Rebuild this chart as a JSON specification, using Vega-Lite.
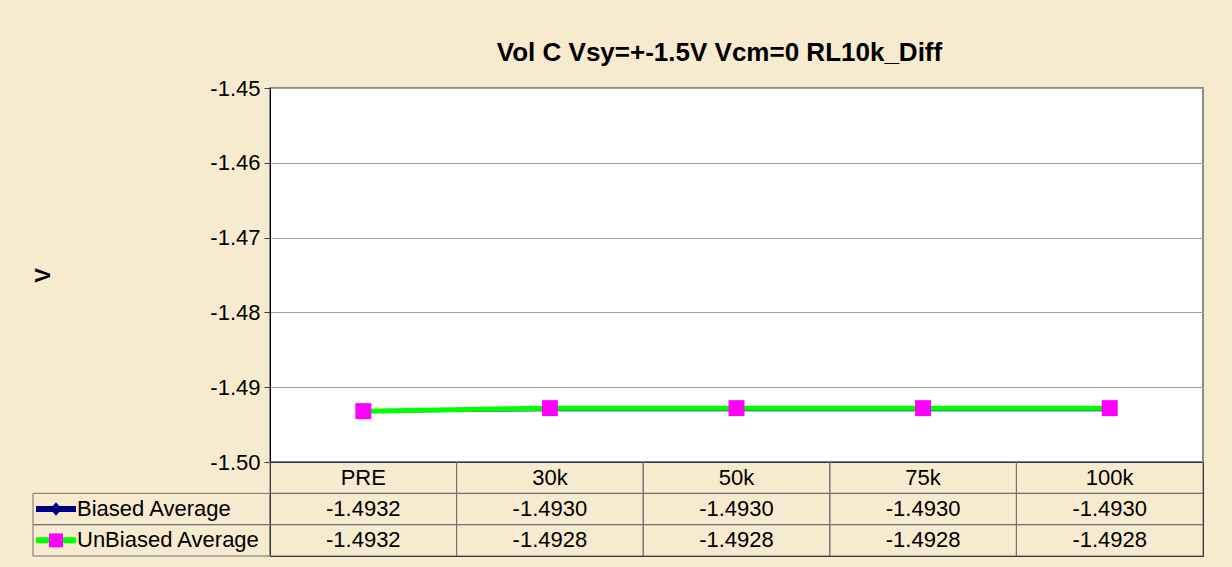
{
  "$schema": "https://vega.github.io/schema/vega-lite/v6.json",
  "background": "#F7EBCF",
  "padding": {"left": 30, "top": 39, "right": 32, "bottom": 11},
  "datasets": {
    "avg": [
      {"cat": "PRE", "series": "Biased Average", "value": -1.4932},
      {"cat": "30k", "series": "Biased Average", "value": -1.4930},
      {"cat": "50k", "series": "Biased Average", "value": -1.4930},
      {"cat": "75k", "series": "Biased Average", "value": -1.4930},
      {"cat": "100k", "series": "Biased Average", "value": -1.4930},
      {"cat": "PRE", "series": "UnBiased Average", "value": -1.4932},
      {"cat": "30k", "series": "UnBiased Average", "value": -1.4928},
      {"cat": "50k", "series": "UnBiased Average", "value": -1.4928},
      {"cat": "75k", "series": "UnBiased Average", "value": -1.4928},
      {"cat": "100k", "series": "UnBiased Average", "value": -1.4928}
    ]
  },
  "columns": 2,
  "spacing": 0,
  "bounds": "flush",
  "concat": [
    {
      "width": 237,
      "height": 374,
      "view": {"stroke": null},
      "data": {"values": []},
      "mark": "point",
      "encoding": {}
    },
    {
      "width": 933,
      "height": 374,
      "data": {"name": "avg"},
      "title": {
        "text": "Vol C Vsy=+-1.5V Vcm=0 RL10k_Diff",
        "font": "Liberation Sans",
        "fontSize": 26,
        "fontWeight": "bold",
        "color": "black",
        "baseline": "alphabetic",
        "offset": -10,
        "dx": -17,
        "anchor": "middle"
      },
      "view": {"stroke": "#8c8c8c", "strokeWidth": 2, "fill": "white"},
      "encoding": {
        "x": {
          "field": "cat",
          "type": "nominal",
          "sort": null,
          "scale": {"domain": ["PRE", "30k", "50k", "75k", "100k"], "paddingInner": 0, "paddingOuter": 0},
          "axis": null
        },
        "y": {
          "field": "value",
          "type": "quantitative",
          "scale": {"domain": [-1.5, -1.45], "nice": false, "zero": false},
          "axis": {
            "values": [-1.5, -1.49, -1.48, -1.47, -1.46, -1.45],
            "format": ".2f",
            "title": "V",
            "titleFont": "Liberation Sans",
            "titleFontSize": 22,
            "titleFontWeight": "bold",
            "titleColor": "black",
            "titlePadding": 155,
            "labelFont": "Liberation Sans",
            "labelFontSize": 22,
            "labelColor": "black",
            "labelPadding": 4,
            "tickSize": 6,
            "tickColor": "#404040",
            "domainColor": "black",
            "grid": true,
            "gridColor": "#a0a0a0"
          }
        }
      },
      "layer": [
        {
          "transform": [{"filter": "datum.series === 'Biased Average'"}],
          "mark": {"type": "line", "color": "#000080", "strokeWidth": 3}
        },
        {
          "transform": [{"filter": "datum.series === 'Biased Average'"}],
          "mark": {"type": "point", "shape": "diamond", "filled": true, "color": "#000080", "size": 100, "opacity": 1}
        },
        {
          "transform": [{"filter": "datum.series === 'UnBiased Average'"}],
          "mark": {"type": "line", "color": "#00FF00", "strokeWidth": 5}
        },
        {
          "transform": [{"filter": "datum.series === 'UnBiased Average'"}],
          "mark": {"type": "point", "shape": "square", "filled": true, "color": "#FF00FF", "size": 256, "opacity": 1}
        }
      ]
    },
    {
      "width": 237,
      "height": 94,
      "data": {"name": "avg"},
      "transform": [{"filter": "datum.cat === 'PRE'"}],
      "view": {"stroke": null},
      "encoding": {
        "y": {
          "field": "series",
          "type": "nominal",
          "scale": {"domain": ["Category", "Biased Average", "UnBiased Average"], "paddingInner": 0, "paddingOuter": 0},
          "axis": null
        }
      },
      "layer": [
        {
          "mark": {"type": "rect", "filled": false, "stroke": "#707070", "strokeWidth": 1}
        },
        {
          "mark": {"type": "text", "align": "left", "baseline": "middle", "font": "Liberation Sans", "fontSize": 22, "color": "black"},
          "encoding": {
            "x": {"datum": "label", "type": "nominal", "scale": {"type": "point", "domain": ["symbol", "label"], "range": [23, 44], "padding": 0}, "axis": null},
            "text": {"field": "series"}
          }
        },
        {
          "transform": [{"filter": "datum.series === 'Biased Average'"}],
          "mark": {"type": "point", "shape": "M-1,-0.15L1,-0.15L1,0.15L-1,0.15Z M0,-0.34L0.3,0L0,0.34L-0.3,0Z", "filled": true, "color": "#000080", "size": 1600, "opacity": 1},
          "encoding": {"x": {"datum": "symbol", "type": "nominal"}}
        },
        {
          "transform": [{"filter": "datum.series === 'UnBiased Average'"}],
          "mark": {"type": "point", "shape": "M-1,-0.15L1,-0.15L1,0.15L-1,0.15Z", "filled": true, "color": "#00FF00", "size": 1600, "opacity": 1},
          "encoding": {"x": {"datum": "symbol", "type": "nominal"}}
        },
        {
          "transform": [{"filter": "datum.series === 'UnBiased Average'"}],
          "mark": {"type": "point", "shape": "square", "filled": true, "color": "#FF00FF", "size": 196, "opacity": 1},
          "encoding": {"x": {"datum": "symbol", "type": "nominal"}}
        }
      ]
    },
    {
      "width": 933,
      "height": 94,
      "data": {"name": "avg"},
      "view": {"stroke": "black", "strokeWidth": 1},
      "encoding": {
        "x": {
          "field": "cat",
          "type": "nominal",
          "sort": null,
          "scale": {"domain": ["PRE", "30k", "50k", "75k", "100k"], "paddingInner": 0, "paddingOuter": 0},
          "axis": null
        }
      },
      "layer": [
        {
          "mark": {"type": "rect", "filled": false, "stroke": "#707070", "strokeWidth": 1},
          "encoding": {
            "y": {
              "field": "series",
              "type": "nominal",
              "scale": {"domain": ["Category", "Biased Average", "UnBiased Average"], "paddingInner": 0, "paddingOuter": 0},
              "axis": null
            }
          }
        },
        {
          "mark": {"type": "text", "baseline": "middle", "font": "Liberation Sans", "fontSize": 22, "color": "black"},
          "encoding": {
            "y": {"field": "series", "type": "nominal"},
            "text": {"field": "value", "type": "quantitative", "format": ".4f"}
          }
        },
        {
          "transform": [{"filter": "datum.series === 'Biased Average'"}],
          "mark": {"type": "rect", "filled": false, "stroke": "#707070", "strokeWidth": 1},
          "encoding": {"y": {"datum": "Category", "type": "nominal"}}
        },
        {
          "transform": [{"filter": "datum.series === 'Biased Average'"}],
          "mark": {"type": "text", "baseline": "middle", "font": "Liberation Sans", "fontSize": 22, "color": "black"},
          "encoding": {
            "y": {"datum": "Category", "type": "nominal"},
            "text": {"field": "cat"}
          }
        }
      ]
    }
  ],
  "config": {
    "locale": {
      "number": {"decimal": ".", "thousands": ",", "grouping": [3], "currency": ["$", ""], "minus": "-"}
    },
    "font": "Liberation Sans"
  }
}
